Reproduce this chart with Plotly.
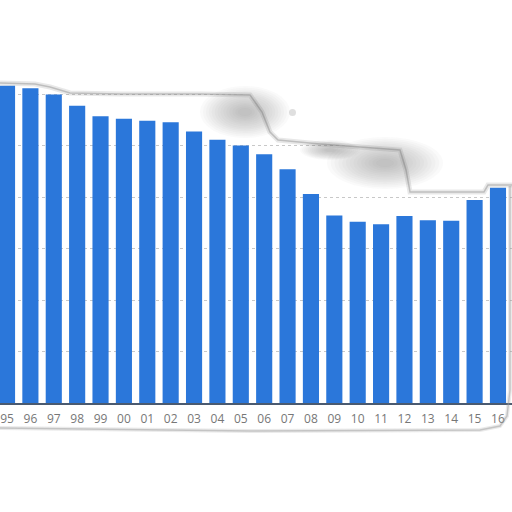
import plotly.graph_objects as go

# years shown on the x axis (two-digit labels)
years = ["95", "96", "97", "98", "99", "00", "01", "02", "03", "04", "05",
         "06", "07", "08", "09", "10", "11", "12", "13", "14", "15", "16"]
# bar heights
values = [6.16, 6.11, 5.99, 5.77, 5.57, 5.52, 5.48, 5.45, 5.27, 5.11, 5.00,
          4.83, 4.54, 4.06, 3.64, 3.52, 3.47, 3.63, 3.55, 3.54, 3.94, 4.18]

W, H = 512, 512
BASE = 403  # pixel row of the baseline


def px(x, y):
    # pixel -> paper coords
    return x / W, (BASE - y) / BASE


def path(points, close=True):
    s = ""
    for i, (x, y) in enumerate(points):
        a, b = px(x, y)
        s += ("M" if i == 0 else "L") + f"{a:.4f},{b:.4f} "
    return s + ("Z" if close else "")


fig = go.Figure()
fig.add_trace(go.Bar(x=years, y=values, marker_color="#2b77da",
                     marker_line_width=0, width=0.69))

# torn paper edge across the top
edge = [(0, 83), (35, 84), (50, 87), (70, 93), (120, 94), (200, 94), (250, 95),
        (262, 112), (270, 132), (278, 140), (320, 144), (360, 147), (400, 150),
        (406, 170), (410, 192), (484, 192), (488, 185), (512, 185)]
top = [(512, -5), (0, -5)]
fig.add_shape(type="path", path=path(edge + top), xref="paper", yref="paper",
              fillcolor="white", line=dict(width=0), layer="above")
fig.add_shape(type="path", path=path(edge, close=False), xref="paper", yref="paper",
              line=dict(color="rgba(140,140,140,0.2)", width=5), layer="above")
fig.add_shape(type="path", path=path(edge, close=False), xref="paper", yref="paper",
              line=dict(color="rgba(140,140,140,0.45)", width=1.5), layer="above")

# soft shadows of the curl, stacked to fake a blur
blobs = [(245, 112, 45, 26), (385, 163, 58, 26), (330, 150, 30, 10)]
for cx, cy, rx, ry in blobs:
    for k in range(14):
        f = 1 - k * 0.065
        a0, b0 = px(cx - rx * f, cy + ry * f)
        a1, b1 = px(cx + rx * f, cy - ry * f)
        fig.add_shape(type="circle", xref="paper", yref="paper", x0=a0, y0=b0, x1=a1, y1=b1,
                      fillcolor="rgb(120,120,120)", opacity=0.035, line=dict(width=0),
                      layer="above")
a0, b0 = px(289, 116)
a1, b1 = px(296, 109)
fig.add_shape(type="circle", xref="paper", yref="paper", x0=a0, y0=b0, x1=a1, y1=b1,
              fillcolor="rgb(150,150,150)", opacity=0.3, line=dict(width=0), layer="above")

# bottom and right edge of the page
bottom = [(0, 428), (250, 431), (480, 430), (500, 426), (507, 416), (510, 390), (510, 186)]
fig.add_shape(type="path", xref="paper", yref="paper", path=path(bottom, close=False),
              line=dict(color="rgba(150,150,150,0.2)", width=4), layer="above")
fig.add_shape(type="path", xref="paper", yref="paper", path=path(bottom, close=False),
              line=dict(color="rgba(150,150,150,0.45)", width=1.5), layer="above")

fig.update_layout(
    width=W, height=H,
    margin=dict(l=0, r=0, t=0, b=H - BASE),
    plot_bgcolor="white", paper_bgcolor="white",
    showlegend=False, bargap=0.31,
)
fig.update_xaxes(range=[-0.3, 21.6], showline=True, linecolor="#4a5a70", linewidth=2,
                 ticks="", tickfont=dict(family="Open Sans", size=12, color="#777"),
                 ticklabelstandoff=4, showgrid=False)
fig.update_yaxes(range=[0, BASE / 51.5], dtick=1, showticklabels=False,
                 gridcolor="#c8c8c8", griddash="dot", gridwidth=1, zeroline=False)

fig.write_html("out.html", config={"displayModeBar": False},
               post_script="document.body.style.margin='0';")
